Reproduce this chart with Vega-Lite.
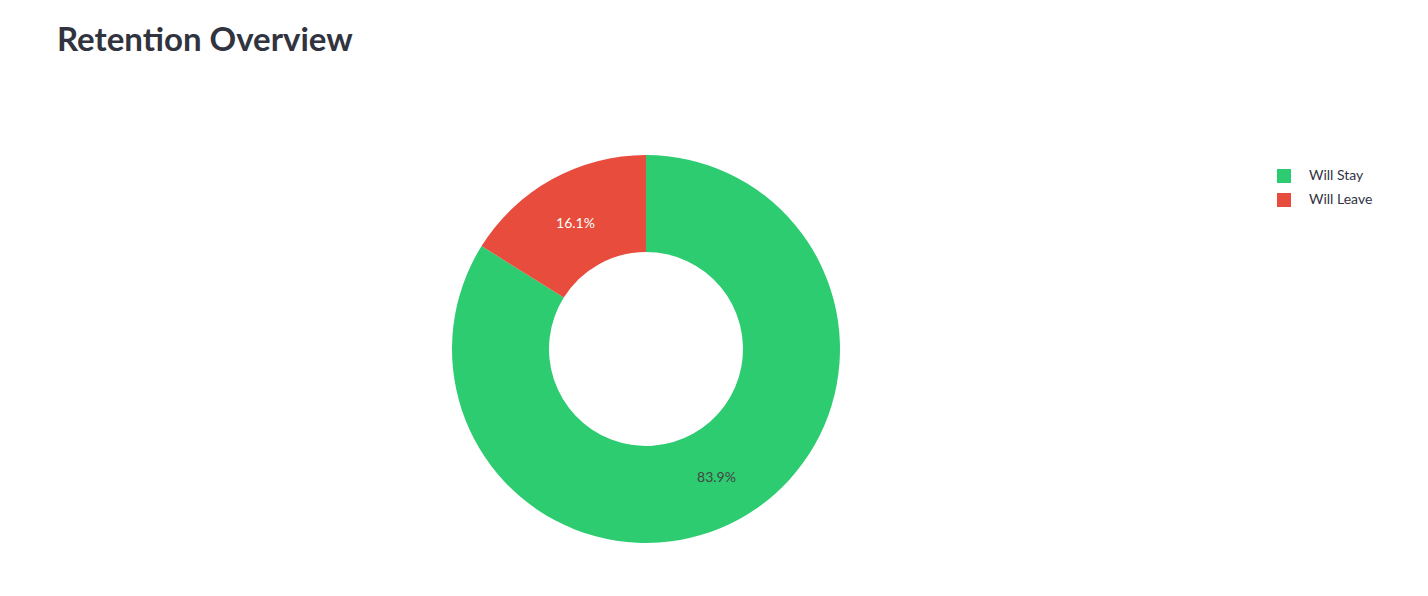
{
  "$schema": "https://vega.github.io/schema/vega-lite/v6.json",
  "autosize": "none",
  "width": 1292,
  "height": 494,
  "padding": {"left": 0, "top": 102, "right": 136, "bottom": 0},
  "background": "white",
  "title": {
    "text": "Retention Overview",
    "anchor": "start",
    "frame": "group",
    "dx": 57,
    "offset": 18,
    "baseline": "alphabetic",
    "font": "Lato",
    "fontSize": 33,
    "fontWeight": "bold",
    "color": "#31333f"
  },
  "data": {
    "values": [
      {"status": "Will Stay", "pct": 83.9, "label": "83.9%"},
      {"status": "Will Leave", "pct": 16.1, "label": "16.1%"}
    ]
  },
  "encoding": {
    "theta": {"field": "pct", "type": "quantitative", "stack": true},
    "order": {"field": "pct", "type": "quantitative", "sort": "descending"}
  },
  "layer": [
    {
      "mark": {"type": "arc", "outerRadius": 194, "innerRadius": 97},
      "encoding": {
        "color": {
          "field": "status",
          "type": "nominal",
          "scale": {"domain": ["Will Stay", "Will Leave"], "range": ["#2ecc71", "#e74c3c"]},
          "legend": {
            "title": null,
            "orient": "none",
            "legendX": 1277,
            "legendY": 67,
            "symbolType": "square",
            "symbolSize": 196,
            "symbolStrokeWidth": 0,
            "labelOffset": 18,
            "rowPadding": 10,
            "labelFont": "Lato",
            "labelFontSize": 14,
            "labelColor": "#31333f"
          }
        }
      }
    },
    {
      "mark": {"type": "text", "radius": 145.5, "dy": 2, "font": "Lato", "fontSize": 14},
      "encoding": {
        "text": {"field": "label"},
        "color": {
          "condition": {"test": "datum.status === 'Will Leave'", "value": "#ffffff"},
          "value": "#444444"
        }
      }
    }
  ],
  "config": {"view": {"stroke": null}}
}
